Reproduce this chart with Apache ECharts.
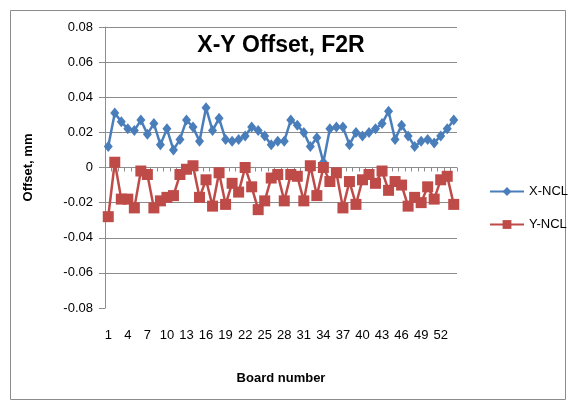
<!DOCTYPE html>
<html>
<head>
<meta charset="utf-8">
<script src="https://cdn.jsdelivr.net/npm/echarts@6/dist/echarts.min.js"></script>
<style>html,body{margin:0;padding:0;background:#fff}#c{width:570px;height:402px}</style>
</head>
<body>
<div id="c"></div>
<script>
var categories = [];
for (var n = 1; n <= 54; n++) categories.push(String(n));
var xNcl = [0.012,0.031,0.026,0.022,0.021,0.027,0.019,0.025,0.013,0.022,0.010,0.016,0.027,0.023,0.015,0.034,0.021,0.028,0.016,0.015,0.016,0.018,0.023,0.021,0.018,0.013,0.015,0.015,0.027,0.024,0.020,0.012,0.017,0.003,0.022,0.023,0.023,0.013,0.020,0.018,0.020,0.022,0.025,0.032,0.016,0.024,0.018,0.012,0.015,0.016,0.014,0.018,0.022,0.027];
var yNcl = [-0.028,0.003,-0.018,-0.018,-0.023,-0.002,-0.004,-0.023,-0.019,-0.017,-0.016,-0.004,-0.001,0.001,-0.017,-0.007,-0.022,-0.003,-0.021,-0.009,-0.014,0.000,-0.011,-0.024,-0.019,-0.006,-0.004,-0.019,-0.004,-0.005,-0.019,0.001,-0.016,0.000,-0.008,-0.003,-0.023,-0.008,-0.021,-0.007,-0.004,-0.009,-0.002,-0.013,-0.008,-0.010,-0.022,-0.017,-0.020,-0.011,-0.018,-0.007,-0.005,-0.021];
var seriesNames = ['X-NCL', 'Y-NCL'];
var titleText = 'X-Y Offset, F2R';
var xName = 'Board number';
var yName = 'Offset, mm';

var FONT = '"Liberation Sans", Arial, sans-serif';
var chart = echarts.init(document.getElementById('c'), null, {renderer: 'canvas'});
var splitColors = ['rgba(0,0,0,0)'];
for (var k = 0; k < 8; k++) splitColors.push('#8c8c8c');
chart.setOption({
  animation: false,
  backgroundColor: '#fff',
  graphic: [{
    type: 'rect', left: 8, top: 8,
    shape: {width: 555, height: 389},
    style: {fill: 'none', stroke: '#8c8c8c', lineWidth: 1}
  }],
  title: {
    text: titleText, left: 276, top: 29, textAlign: 'center',
    textStyle: {fontFamily: FONT, fontSize: 23, fontWeight: 'bold', color: '#000'}
  },
  legend: {
    orient: 'vertical', left: 484, top: 180, itemGap: 20,
    itemWidth: 34, itemHeight: 11,
    textStyle: {fontFamily: FONT, fontSize: 13, color: '#000'},
    data: seriesNames
  },
  grid: {left: 105, top: 27, width: 352, height: 281, containLabel: false},
  xAxis: {
    type: 'category', data: categories, boundaryGap: true,
    name: xName, nameLocation: 'middle', nameGap: 64,
    nameTextStyle: {fontFamily: FONT, fontSize: 13, fontWeight: 'bold', color: '#000'},
    axisLine: {show: false},
    axisTick: {show: true, length: 4, interval: 0, lineStyle: {color: '#8c8c8c'}},
    axisLabel: {interval: 2, margin: 21, fontFamily: FONT, fontSize: 13, color: '#000'},
    splitLine: {show: false}
  },
  yAxis: {
    type: 'value', min: -0.08, max: 0.08, interval: 0.02,
    name: yName, nameLocation: 'middle', nameGap: 70, nameRotate: 90,
    nameTextStyle: {fontFamily: FONT, fontSize: 13, fontWeight: 'bold', color: '#000'},
    axisLine: {show: true, lineStyle: {color: '#8c8c8c'}},
    axisTick: {show: true, length: 6, lineStyle: {color: '#8c8c8c'}},
    axisLabel: {margin: 12, fontFamily: FONT, fontSize: 13, color: '#000',
      formatter: function (v) { return Math.abs(v) < 1e-9 ? '0' : v.toFixed(2); }},
    splitLine: {show: true, lineStyle: {color: splitColors, width: 1}}
  },
  series: [{
    name: seriesNames[0], type: 'line', data: xNcl,
    symbol: 'diamond', symbolSize: [9, 11], showAllSymbol: true,
    lineStyle: {color: '#4A7EBB', width: 2.5},
    itemStyle: {color: '#4A7EBB'}
  }, {
    name: seriesNames[1], type: 'line', data: yNcl,
    symbol: 'rect', symbolSize: 11, showAllSymbol: true,
    lineStyle: {color: '#BE4B48', width: 2.5},
    itemStyle: {color: '#BE4B48'}
  }]
});
</script>
</body>
</html>
